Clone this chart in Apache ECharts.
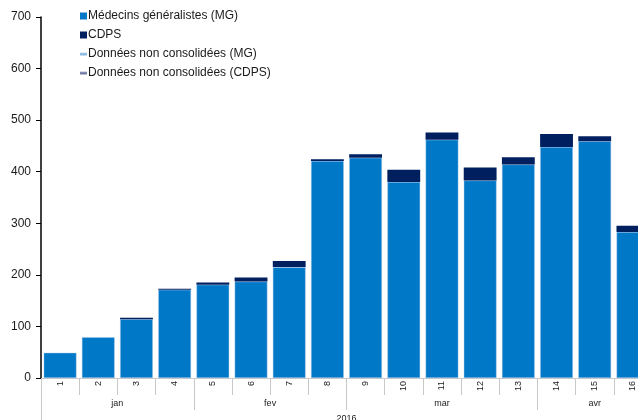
<!DOCTYPE html>
<html>
<head>
<meta charset="utf-8">
<script src="https://cdn.jsdelivr.net/npm/echarts@6/dist/echarts.min.js"></script>
<style>
html, body { margin: 0; padding: 0; background: #fff; }
#chart { width: 638px; height: 420px; }
</style>
</head>
<body>
<div id="chart"></div>
<script>
// catégories (semaines) et regroupements
var days = ['1','2','3','4','5','6','7','8','9','10','11','12','13','14','15','16'];
var months = ['jan','fev','mar','avr'];
var monthSpans = [4, 4, 5, 3];
var year = '2016';

// valeurs
var mgData = [49, 79, 114, 171, 181, 187, 215, 421, 427, 380, 462, 383, 414, 448, 459, 283];
var cdpsData = [0, 0, 3, 2, 4, 8, 12, 3, 7, 24, 14, 25, 14, 25, 10, 12];
var mgNonConsData = [];
var cdpsNonConsData = [];

var yTicks = [0, 700, 100]; // min, max, pas

var seriesNames = ['Médecins généralistes (MG)', 'CDPS', 'Données non consolidées (MG)', 'Données non consolidées (CDPS)'];

// axe des mois : demi-catégories pour centrer les libellés
var monthCats = [];
var monthBounds = {};
for (var i = 0; i <= days.length * 2; i++) monthCats.push('');
var start = 0;
for (var m = 0; m < months.length; m++) {
	monthBounds[start * 2] = true;
	monthCats[start * 2 + monthSpans[m]] = months[m];
	start += monthSpans[m];
}
monthBounds[start * 2] = true;

var yearCats = [];
for (var i = 0; i <= days.length * 2; i++) yearCats.push('');
yearCats[days.length] = year;

var grey = '#C8C8C8';
var txt = '#1a1a1a';
var font = 'Liberation Sans, Arial, sans-serif';

var chart = echarts.init(document.getElementById('chart'));
var option = {
	animation: false,
	textStyle: { fontFamily: font },
	grid: { left: 41, top: 17, bottom: 42, right: -14, outerBoundsMode: 'none', containLabel: false },
	legend: {
		orient: 'vertical',
		left: 75,
		top: 5,
		itemWidth: 7,
		itemHeight: 7,
		itemGap: 7,
		itemStyle: { borderWidth: 0 },
		textStyle: { fontSize: 12, color: txt, fontFamily: font, padding: [0, 0, 0, -4] },
		data: [
			{ name: seriesNames[0], icon: 'rect' },
			{ name: seriesNames[1], icon: 'rect' },
			{ name: seriesNames[2], icon: 'path://M0,0M0,3h10v4h-10zM10,10' },
			{ name: seriesNames[3], icon: 'path://M0,0M0,3h10v4h-10zM10,10' }
		]
	},
	xAxis: [
		{
			type: 'category',
			data: days,
			axisLine: { show: true, lineStyle: { color: grey, width: 1 } },
			axisTick: { show: true, interval: 0, length: 17, lineStyle: { color: grey } },
			axisLabel: { interval: 0, rotate: 90, fontSize: 9, color: txt, margin: 3 }
		},
		{
			type: 'category',
			data: monthCats,
			boundaryGap: false,
			position: 'bottom',
			offset: 17,
			axisLine: { show: false },
			axisTick: {
				show: true, length: 15, lineStyle: { color: grey },
				interval: function (idx) { return !!monthBounds[idx]; }
			},
			axisLabel: {
				fontSize: 9, color: txt, margin: 4,
				interval: function (idx, val) { return val !== ''; }
			}
		},
		{
			type: 'category',
			data: yearCats,
			boundaryGap: false,
			position: 'bottom',
			offset: 32,
			axisLine: { show: false },
			axisTick: {
				show: true, length: 20, lineStyle: { color: grey },
				interval: function (idx) { return idx === 0; }
			},
			axisLabel: {
				fontSize: 9, color: txt, margin: 4,
				interval: function (idx, val) { return val !== ''; }
			}
		}
	],
	yAxis: {
		type: 'value',
		min: yTicks[0],
		max: yTicks[1],
		interval: yTicks[2],
		axisLine: { show: true, lineStyle: { color: '#000', width: 1.5 } },
		axisTick: { show: true, length: 5, lineStyle: { color: '#000' } },
		splitLine: { show: false },
		axisLabel: { fontSize: 12, color: txt, margin: 10 }
	},
	series: [
		{
			name: seriesNames[0], type: 'bar', stack: 'tot', data: mgData,
			barCategoryGap: '14%',
			itemStyle: { color: '#0078C8', borderColor: 'rgba(170,200,235,0.7)', borderWidth: 0.6 }
		},
		{
			name: seriesNames[1], type: 'bar', stack: 'tot', data: cdpsData,
			itemStyle: { color: '#001F5F' }
		},
		{
			name: seriesNames[2], type: 'bar', stack: 'tot', data: mgNonConsData,
			itemStyle: { color: new echarts.graphic.LinearGradient(0, 0, 0, 1, [
				{ offset: 0, color: '#CFE3F5' }, { offset: 1, color: '#4F97D6' }]) }
		},
		{
			name: seriesNames[3], type: 'bar', stack: 'tot', data: cdpsNonConsData,
			itemStyle: { color: new echarts.graphic.LinearGradient(0, 0, 0, 1, [
				{ offset: 0, color: '#C9CCE0' }, { offset: 1, color: '#2B3A78' }]) }
		}
	]
};
chart.setOption(option);
</script>
</body>
</html>
